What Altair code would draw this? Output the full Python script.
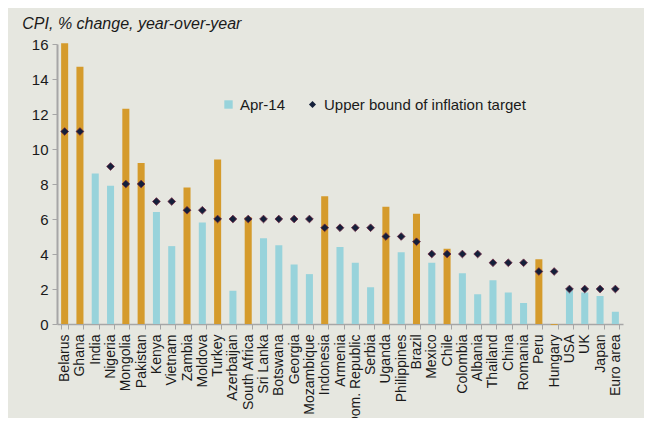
import altair as alt
import pandas as pd

countries = ["Belarus", "Ghana", "India", "Nigeria", "Mongolia", "Pakistan", "Kenya",
             "Vietnam", "Zambia", "Moldova", "Turkey", "Azerbaijan", "South Africa",
             "Sri Lanka", "Botswana", "Georgia", "Mozambique", "Indonesia", "Armenia",
             "Dom. Republic", "Serbia", "Uganda", "Philippines", "Brazil", "Mexico",
             "Chile", "Colombia", "Albania", "Thailand", "China", "Romania", "Peru",
             "Hungary", "USA", "UK", "Japan", "Euro area"]
cpi = [16.05, 14.7, 8.6, 7.9, 12.3, 9.2, 6.4,
       4.45, 7.8, 5.8, 9.4, 1.9, 6.1,
       4.9, 4.5, 3.4, 2.85, 7.3, 4.4,
       3.5, 2.1, 6.7, 4.1, 6.3, 3.5,
       4.3, 2.9, 1.7, 2.5, 1.8, 1.2, 3.7,
       -0.05, 2.0, 1.8, 1.6, 0.7]
target = [11, 11, None, 9, 8, 8, 7,
          7, 6.5, 6.5, 6, 6, 6,
          6, 6, 6, 6, 5.5, 5.5,
          5.5, 5.5, 5, 5, 4.7, 4,
          4, 4, 4, 3.5, 3.5, 3.5, 3,
          3, 2, 2, 2, 2]
outside = ["Belarus", "Ghana", "Mongolia", "Pakistan", "Zambia", "Turkey", "South Africa",
           "Indonesia", "Uganda", "Brazil", "Chile", "Peru", "Hungary"]
y_ticks = [0, 2, 4, 6, 8, 10, 12, 14, 16]

series = ["Outside target" if c in outside else "Apr-14" for c in countries]
df = pd.DataFrame({"country": countries, "cpi": cpi, "target": target, "series": series})

BLUE = "#98d3db"
ORANGE = "#d59b2c"
DARK = "#14203a"
FONT = "Liberation Sans"

x_axis = alt.Axis(labelAngle=-90, labelFontSize=14, labelFont=FONT, labelColor="#1a1a1a",
                  tickBand="extent", tickSize=5, tickColor="#a6a6a6", domainColor="#a6a6a6",
                  domainWidth=1.5, labelPadding=5, labelLimit=200, title=None)
x_scale = alt.Scale(paddingInner=0.54, paddingOuter=0.27)
y_scale = alt.Scale(domain=[0, 16], nice=False)
y_axis = alt.Axis(values=y_ticks, grid=False, labelFontSize=15, labelOverlap=False,
                  labelFont=FONT, labelColor="#1a1a1a", tickSize=5, tickColor="#a6a6a6",
                  domainColor="#a6a6a6", domainWidth=2, labelPadding=4, title=None,
                  labelBound=False, labelFlush=False)

bars = alt.Chart(df).mark_bar(clip=False).encode(
    x=alt.X("country:N", sort=countries, scale=x_scale, axis=x_axis),
    y=alt.Y("cpi:Q", scale=y_scale, axis=y_axis),
    color=alt.Color(
        "series:N",
        scale=alt.Scale(domain=["Apr-14", "Outside target"], range=[BLUE, ORANGE]),
        legend=alt.Legend(values=["Apr-14"], orient="none", legendX=164, legendY=53,
                          title=None, symbolType="square", symbolSize=70,
                          labelFontSize=15, labelFont=FONT, labelColor="#1a1a1a",
                          symbolStrokeWidth=0),
    ),
)

points = alt.Chart(df).transform_filter("datum.target != null").transform_calculate(
    lbl="'Upper bound of inflation target'"
).mark_point(filled=True, size=60, color=DARK, stroke="#6b2540", strokeWidth=0.8,
             opacity=1).encode(
    x=alt.X("country:N", sort=countries, scale=x_scale, axis=x_axis),
    y=alt.Y("target:Q", scale=y_scale, axis=y_axis),
    shape=alt.Shape(
        "lbl:N", scale=alt.Scale(range=["diamond"]),
        legend=alt.Legend(orient="none", legendX=248, legendY=53, title=None,
                          symbolSize=50, symbolFillColor=DARK, symbolStrokeColor="#6b2540",
                          symbolStrokeWidth=0.8, labelFontSize=15, labelFont=FONT,
                          labelColor="#1a1a1a", labelLimit=400),
    ),
)

chart = alt.layer(bars, points).resolve_legend(color="independent", shape="independent").properties(
    width=566, height=280,
    autosize=alt.AutoSizeParams(type="none"),
    padding={"left": 49, "top": 36, "right": 21, "bottom": 94},
    background="#e6e7e0",
    title=alt.TitleParams("CPI, % change, year-over-year", anchor="start", fontStyle="italic",
                          fontSize=16, font=FONT, fontWeight="normal", color="#1a1a1a",
                          dx=-9, offset=5),
).configure_view(stroke=None).configure_axisY(labelOverlap=False)

chart.save("out.html", embed_options={"renderer": "svg", "actions": False})
